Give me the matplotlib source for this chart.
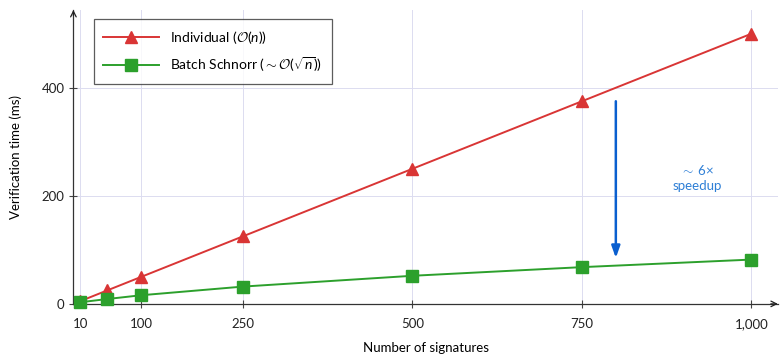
import matplotlib
matplotlib.use("Agg")
import matplotlib.pyplot as plt

# data
n_sigs = [10, 50, 100, 250, 500, 750, 1000]
individual_ms = [5, 25, 50, 125, 250, 375, 500]
batch_ms = [3, 9, 16, 32, 52, 68, 82]

xticks = [10, 100, 250, 500, 750, 1000]
xtick_labels = ["10", "100", "250", "500", "750", "1,000"]
yticks = [0, 200, 400]

plt.rcParams["font.family"] = ["Lato", "DejaVu Sans"]
plt.rcParams["mathtext.fontset"] = "custom"
plt.rcParams["mathtext.rm"] = "Lato"
plt.rcParams["mathtext.it"] = "Lato:italic"
plt.rcParams["mathtext.cal"] = "cmsy10"

RED = "#d93535"
GREEN = "#2ca02c"
BLUE = "#0a5fcf"

fig = plt.figure(figsize=(7.81, 3.55), dpi=100)
ax = fig.add_axes([0.094, 0.144, 0.902, 0.828])

ax.plot(n_sigs, individual_ms, color=RED, lw=1.4, marker="^", ms=8,
        label=r"Individual ($\mathcal{O}(n)$)", clip_on=False, zorder=3)
ax.plot(n_sigs, batch_ms, color=GREEN, lw=1.4, marker="s", ms=9,
        label=r"Batch Schnorr ($\sim\mathcal{O}(\sqrt{n})$)", clip_on=False, zorder=3)

ax.set_xlim(0, 1039)
ax.set_ylim(0, 544)
ax.set_xticks(xticks)
ax.set_xticklabels(xtick_labels)
ax.set_yticks(yticks)
ax.tick_params(direction="inout", length=6, width=0.8, color="#444444",
               labelsize=9.5, labelcolor="#222222")
ax.tick_params(axis="x", pad=7)
ax.grid(color="#dcdcf0", lw=0.7)
ax.set_axisbelow(True)

for s in ("top", "right"):
    ax.spines[s].set_visible(False)
for s in ("left", "bottom"):
    ax.spines[s].set_color("#333333")
    ax.spines[s].set_linewidth(0.9)

# axis arrows
ax.annotate("", xy=(1.0, 0), xytext=(0.99, 0), xycoords="axes fraction",
            arrowprops=dict(arrowstyle="->", color="#222222", lw=0.9,
                            shrinkA=0, shrinkB=0))
ax.annotate("", xy=(0, 1.0), xytext=(0, 0.98), xycoords="axes fraction",
            arrowprops=dict(arrowstyle="->", color="#222222", lw=0.9,
                            shrinkA=0, shrinkB=0))

ax.set_xlabel("Number of signatures", fontsize=9.5, labelpad=9)
ax.set_ylabel("Verification time (ms)", fontsize=9.5, labelpad=14)

# speedup arrow
ax.annotate("", xy=(800, 85), xytext=(800, 375),
            arrowprops=dict(arrowstyle="-|>,head_width=0.25,head_length=0.7",
                            color=BLUE, lw=1.8, shrinkA=0, shrinkB=0))
ax.text(920, 233, "$\\sim$ 6$\\times$\nspeedup", color="#2e7fd6",
        fontsize=9.5, ha="center", va="center", linespacing=1.3)

leg = ax.legend(loc="upper left", bbox_to_anchor=(0.019, 0.993), fontsize=10,
                handlelength=4, frameon=True, fancybox=False,
                edgecolor="#333333", borderpad=0.7, labelspacing=0.7)
leg.get_frame().set_linewidth(0.9)

fig.savefig("out.png", dpi=100)
